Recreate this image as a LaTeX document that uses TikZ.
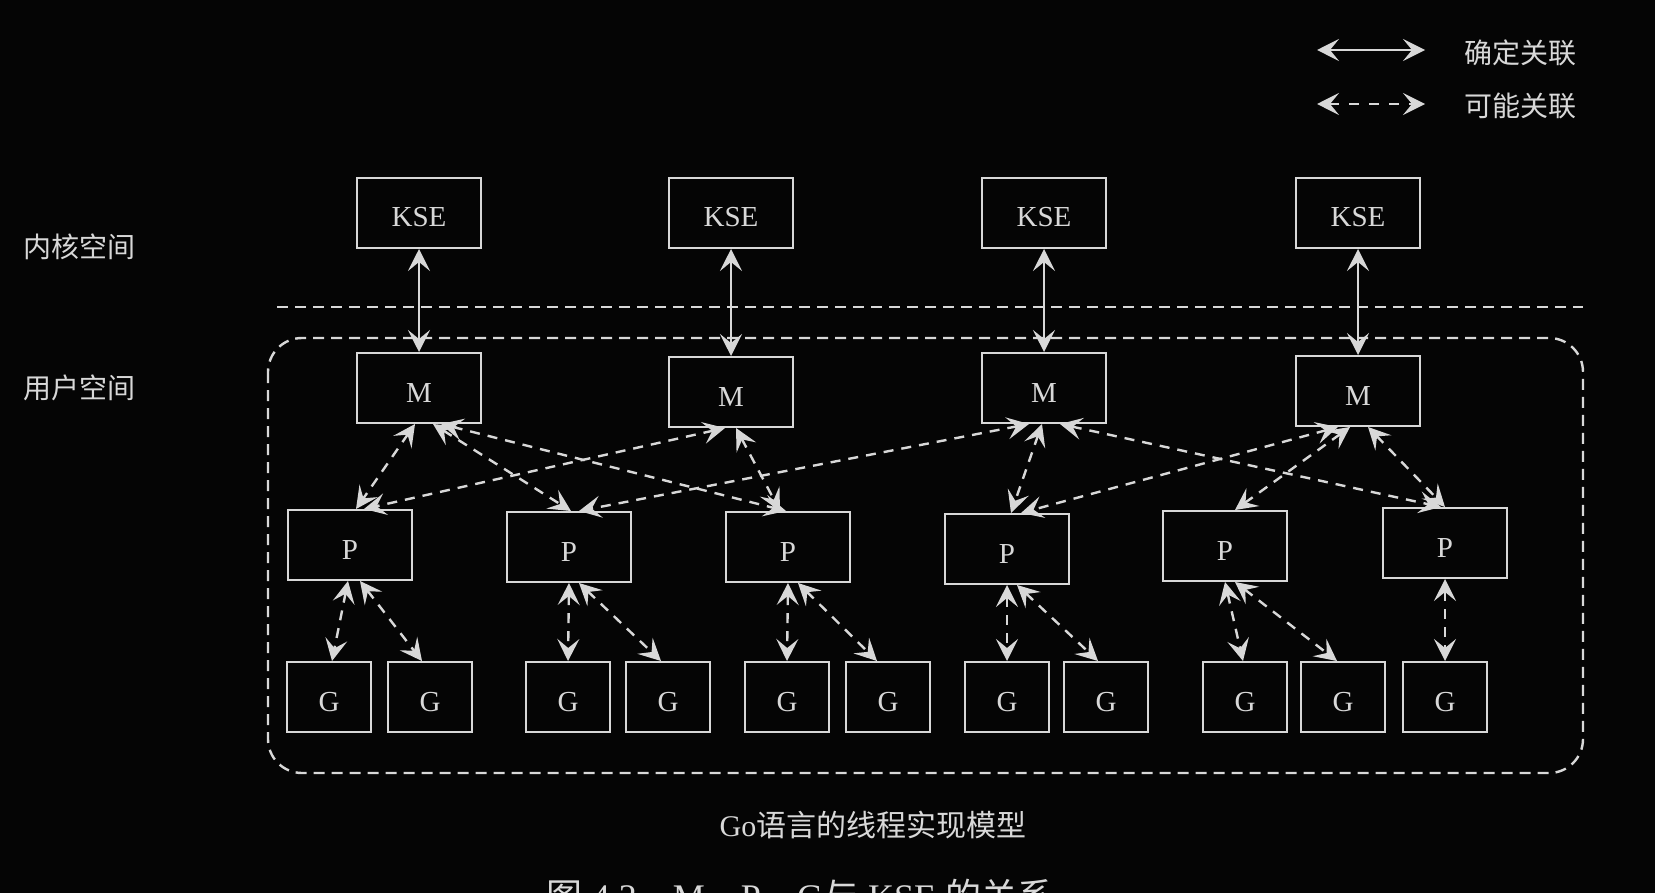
\documentclass[tikz,border=0pt]{standalone}
\usepackage{fontspec}
\setmainfont{Liberation Serif}
\newfontfamily\cjk{Noto Sans CJK SC}
\usetikzlibrary{arrows.meta}
\definecolor{fg}{HTML}{D8D8D8}
\definecolor{bgc}{HTML}{050505}
\begin{document}
\begin{tikzpicture}[x=0.5pt,y=-0.5pt,
  >={Stealth[length=11pt,width=11pt,inset=4.5pt]},
  box/.style={draw=fg, line width=1pt, minimum width=62pt, minimum height=35pt, inner sep=0pt, text=fg, text height=14pt, text depth=0pt, font=\fontsize{14.5}{16}\selectfont},
  gbox/.style={box, minimum width=42pt},
  lbl/.style={text=fg, inner sep=0pt, font=\fontsize{14}{16}\selectfont\cjk},
  sol/.style={<->, draw=fg, line width=1pt},
  dsh/.style={<->, draw=fg, line width=1.2pt, dash pattern=on 5pt off 4pt},
  region/.style={draw=fg, line width=1.2pt, dash pattern=on 5.5pt off 3.5pt}
]
\fill[bgc] (0,0) rectangle (1655,893);
\useasboundingbox (0,0) rectangle (1655,893);
\clip (0,0) rectangle (1655,893);

% legend
\coordinate (La1) at (1317,50); \coordinate (Lb1) at (1425,50);
\coordinate (La2) at (1317,104); \coordinate (Lb2) at (1425,104);
\draw[sol] (La1) -- (Lb1);
\draw[dsh, dash pattern=on 5pt off 5pt] (La2) -- (Lb2);
\node[lbl] (T1) at (1520,53) {确定关联};
\node[lbl] (T2) at (1520,106) {可能关联};

% side labels
\node[lbl] (KS) at (80,247) {内核空间};
\node[lbl] (US) at (80,388) {用户空间};

% separator and user region
\coordinate (S1) at (277,307); \coordinate (S2) at (1583,307);
\draw[region] (S1) -- (S2);
\draw[region, rounded corners=17pt] (268,338) rectangle (1583,773);

% KSE
\node[box] (K1) at (419,213) {KSE};
\node[box] (K2) at (731,213) {KSE};
\node[box] (K3) at (1044,213) {KSE};
\node[box] (K4) at (1358,213) {KSE};
% M
\node[box] (M1) at (419,388) {M};
\node[box] (M2) at (731,392) {M};
\node[box] (M3) at (1044,388) {M};
\node[box] (M4) at (1358,391) {M};
% P
\node[box] (P1) at (350,545) {P};
\node[box] (P2) at (569,547) {P};
\node[box] (P3) at (788,547) {P};
\node[box] (P4) at (1007,549) {P};
\node[box] (P5) at (1225,546) {P};
\node[box] (P6) at (1445,543) {P};
% G
\node[gbox] (G1) at (329,697) {G};
\node[gbox] (G2) at (430,697) {G};
\node[gbox] (G3) at (568,697) {G};
\node[gbox] (G4) at (668,697) {G};
\node[gbox] (G5) at (787,697) {G};
\node[gbox] (G6) at (888,697) {G};
\node[gbox] (G7) at (1007,697) {G};
\node[gbox] (G8) at (1106,697) {G};
\node[gbox] (G9) at (1245,697) {G};
\node[gbox] (G10) at (1343,697) {G};
\node[gbox] (G11) at (1445,697) {G};

% KSE <-> M
\draw[sol] (K1) -- (M1);
\draw[sol] (K2) -- (M2);
\draw[sol] (K3) -- (M3);
\draw[sol] (K4) -- (M4);

% M <-> P
\draw[dsh] ([xshift=-2pt]M1.south) -- ([xshift=3pt]P1.north);
\draw[dsh] ([xshift=7pt]M1.south) -- ([xshift=1pt]P2.north);
\draw[dsh] ([xshift=11pt]M1.south) -- ([xshift=-1pt]P3.north);
\draw[dsh] ([xshift=-3pt]M2.south) -- ([xshift=7pt]P1.north);
\draw[dsh] ([xshift=2.5pt]M2.south) -- ([xshift=-4pt]P3.north);
\draw[dsh] ([xshift=-7.5pt]M3.south) -- ([xshift=5pt]P2.north);
\draw[dsh] ([xshift=-1pt]M3.south) -- ([xshift=2pt]P4.north);
\draw[dsh] ([xshift=8pt]M3.south) -- ([xshift=-2pt]P6.north);
\draw[dsh] ([xshift=-10pt]M4.south) -- ([xshift=7pt]P4.north);
\draw[dsh] ([xshift=-4pt]M4.south) -- ([xshift=5pt]P5.north);
\draw[dsh] ([xshift=5pt]M4.south) -- ([xshift=0pt]P6.north);

% P <-> G
\draw[dsh] ([xshift=-1pt]P1.south) -- ([xshift=1.5pt]G1.north);
\draw[dsh] ([xshift=5pt]P1.south) -- ([xshift=-4pt]G2.north);
\draw[dsh] ([xshift=0pt]P2.south) -- ([xshift=0pt]G3.north);
\draw[dsh] ([xshift=5pt]P2.south) -- ([xshift=-3.5pt]G4.north);
\draw[dsh] ([xshift=0pt]P3.south) -- ([xshift=0pt]G5.north);
\draw[dsh] ([xshift=5pt]P3.south) -- ([xshift=-5.5pt]G6.north);
\draw[dsh] ([xshift=0pt]P4.south) -- ([xshift=0pt]G7.north);
\draw[dsh] ([xshift=5pt]P4.south) -- ([xshift=-4pt]G8.north);
\draw[dsh] ([xshift=0pt]P5.south) -- ([xshift=-1pt]G9.north);
\draw[dsh] ([xshift=5pt]P5.south) -- ([xshift=-3pt]G10.north);
\draw[dsh] (P6.south) -- (G11.north);

% captions
\node[text=fg, inner sep=0pt, font=\fontsize{15}{18}\selectfont] (C1) at (873,825) {Go{\cjk 语言的线程实现模型}};
\node[text=fg, inner sep=0pt, anchor=north, font=\fontsize{18}{20}\selectfont] (C2) at (800,879) {{\cjk 图} 4.2\quad M{\cjk 、}P{\cjk 、}G{\cjk 与} KSE {\cjk 的关系}};
\end{tikzpicture}
\end{document}
